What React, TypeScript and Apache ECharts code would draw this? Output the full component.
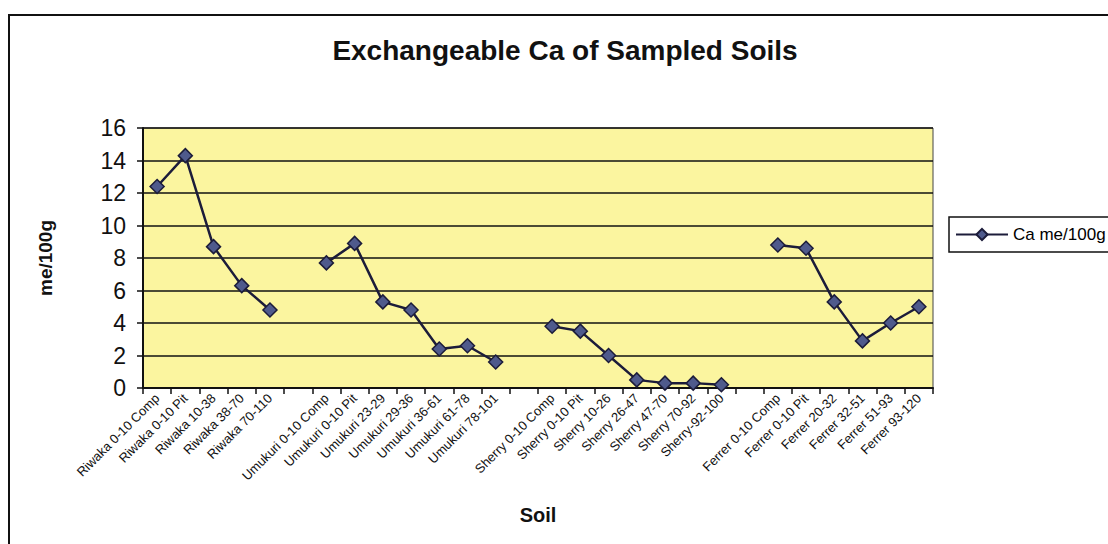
import React, { useEffect, useRef } from "react";
import * as echarts from "echarts";

const categories: string[] = [
  "Riwaka 0-10 Comp", "Riwaka 0-10 Pit", "Riwaka 10-38", "Riwaka 38-70", "Riwaka 70-110",
  "",
  "Umukuri 0-10 Comp", "Umukuri 0-10 Pit", "Umukuri 23-29", "Umukuri 29-36", "Umukuri 36-61", "Umukuri 61-78", "Umukuri 78-101",
  "",
  "Sherry 0-10 Comp", "Sherry 0-10 Pit", "Sherry 10-26", "Sherry 26-47", "Sherry 47-70", "Sherry 70-92", "Sherry-92-100",
  "",
  "Ferrer 0-10 Comp", "Ferrer 0-10 Pit", "Ferrer 20-32", "Ferrer 32-51", "Ferrer 51-93", "Ferrer 93-120",
];

const caValues: (number | null)[] = [
  12.4, 14.3, 8.7, 6.3, 4.8,
  null,
  7.7, 8.9, 5.3, 4.8, 2.4, 2.6, 1.6,
  null,
  3.8, 3.5, 2.0, 0.5, 0.3, 0.3, 0.2,
  null,
  8.8, 8.6, 5.3, 2.9, 4.0, 5.0,
];

const seriesName = "Ca me/100g";
const titleText = "Exchangeable Ca of Sampled Soils";
const yAxisTitle = "me/100g";
const xAxisTitle = "Soil";

export default function App() {
  const ref = useRef<HTMLDivElement>(null);
  useEffect(() => {
    if (!ref.current) return;
    const chart = echarts.init(ref.current, undefined, { renderer: "svg" });
    const font = "Liberation Sans, Arial, sans-serif";
    chart.setOption({
      animation: false,
      backgroundColor: "#ffffff",
      textStyle: { fontFamily: font, color: "#000" },
      title: {
        text: titleText,
        left: 560,
        top: 31,
        textAlign: "center",
        textStyle: { fontSize: 28, fontWeight: "bold", color: "#111", fontFamily: font },
      },
      graphic: [
        {
          type: "rect",
          shape: { x: 9, y: 15, width: 1300, height: 700 },
          style: { fill: "none", stroke: "#111", lineWidth: 2 },
          silent: true,
        },
      ],
      legend: {
        left: 949,
        top: 217,
        padding: [9, 8, 9, 6],
        borderColor: "#111",
        borderWidth: 1.5,
        itemWidth: 52,
        itemHeight: 14,
        itemGap: 6,
        textStyle: { fontSize: 17, color: "#000", fontFamily: font },
        data: [seriesName],
      },
      grid: {
        left: 143,
        right: 175,
        top: 128,
        bottom: 156,
        show: true,
        backgroundColor: "#FBF59F",
        borderColor: "#444",
        borderWidth: 1,
      },
      xAxis: {
        type: "category",
        data: categories,
        boundaryGap: true,
        name: xAxisTitle,
        nameLocation: "middle",
        nameGap: 117,
        nameTextStyle: { fontSize: 20, fontWeight: "bold", color: "#111", fontFamily: font },
        axisLine: { lineStyle: { color: "#111", width: 2 } },
        axisTick: { show: true, alignWithLabel: false, length: 6, lineStyle: { color: "#111", width: 1.5 } },
        axisLabel: { interval: 0, rotate: 45, fontSize: 13, color: "#111", margin: 8, fontFamily: font },
        splitLine: { show: false },
      },
      yAxis: {
        type: "value",
        min: 0,
        max: 16,
        interval: 2,
        name: yAxisTitle,
        nameLocation: "middle",
        nameGap: 88,
        nameRotate: 90,
        nameTextStyle: { fontSize: 19, fontWeight: "bold", color: "#111", fontFamily: font },
        axisLine: { show: true, lineStyle: { color: "#111", width: 2 } },
        axisTick: { show: true, length: 6, lineStyle: { color: "#111", width: 1.5 } },
        axisLabel: { fontSize: 23, color: "#111", margin: 17, fontFamily: font },
        splitLine: { show: true, lineStyle: { color: "#111", width: 1.5 } },
      },
      series: [
        {
          name: seriesName,
          type: "line",
          data: caValues,
          connectNulls: false,
          symbol: "diamond",
          symbolSize: 14,
          lineStyle: { color: "#1c1c3a", width: 2.5 },
          itemStyle: { color: "#4f5a8c", borderColor: "#1c1c3a", borderWidth: 1.5 },
        },
      ],
    });
    return () => chart.dispose();
  }, []);
  return (
    <div
      ref={ref}
      style={{ position: "absolute", left: 0, top: 0, width: 1108, height: 544 }}
    />
  );
}
